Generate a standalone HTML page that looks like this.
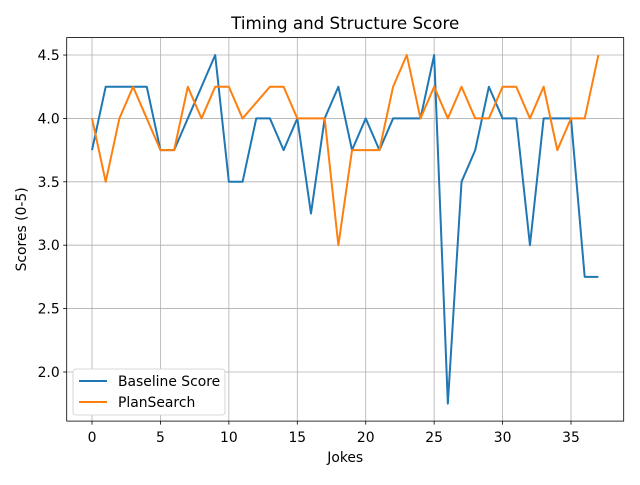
<!DOCTYPE html>
<html><head><meta charset="utf-8"><style>
body{margin:0;background:#fff}
svg text{font-family:"DejaVu Sans","Liberation Sans",sans-serif;fill:#000}
</style></head><body>
<svg id="chart" width="640" height="480" xmlns="http://www.w3.org/2000/svg"></svg>
<script>
const xTicks=[0,5,10,15,20,25,30,35];
const yTicks=[2.0,2.5,3.0,3.5,4.0,4.5];
const baseline=[3.75,4.25,4.25,4.25,4.25,3.75,3.75,4.0,4.25,4.5,3.5,3.5,4.0,4.0,3.75,4.0,3.25,4.0,4.25,3.75,4.0,3.75,4.0,4.0,4.0,4.5,1.75,3.5,3.75,4.25,4.0,4.0,3.0,4.0,4.0,4.0,2.75,2.75];
const plansearch=[4.0,3.5,4.0,4.25,4.0,3.75,3.75,4.25,4.0,4.25,4.25,4.0,4.125,4.25,4.25,4.0,4.0,4.0,3.0,3.75,3.75,3.75,4.25,4.5,4.0,4.25,4.0,4.25,4.0,4.0,4.25,4.25,4.0,4.25,3.75,4.0,4.0,4.5];
const L=66.7,R=623.7,T=37.6,B=421.1;
const xmin=-1.85,xmax=38.85,ymin=1.6125,ymax=4.6375;
const sx=v=>L+(v-xmin)/(xmax-xmin)*(R-L);
const sy=v=>B-(v-ymin)/(ymax-ymin)*(B-T);
const svg=document.getElementById('chart');
const NS='http://www.w3.org/2000/svg';
function mk(t,a,p){const e=document.createElementNS(NS,t);for(const k in a)e.setAttribute(k,a[k]);(p||svg).appendChild(e);return e;}
xTicks.forEach(v=>{
 const g=mk('line',{x1:sx(v),x2:sx(v),y1:T,y2:B,stroke:'#b0b0b0','stroke-width':0.8});
 
 
 mk('line',{x1:sx(v),x2:sx(v),y1:B,y2:B+3.5,stroke:'#000','stroke-width':0.8});
 const t=mk('text',{x:sx(v),y:B+21,'text-anchor':'middle','font-size':13.9});t.textContent=v;
 
 
});
yTicks.forEach(v=>{
 const g=mk('line',{x1:L,x2:R,y1:sy(v),y2:sy(v),stroke:'#b0b0b0','stroke-width':0.8});
 
 
 mk('line',{x1:L-3.5,x2:L,y1:sy(v),y2:sy(v),stroke:'#000','stroke-width':0.8});
 const t=mk('text',{x:L-7,y:sy(v)+5,'text-anchor':'end','font-size':13.9});t.textContent=v.toFixed(1);
 
 
});
function line(d,c,n){const p=mk('polyline',{points:d.map((v,i)=>sx(i)+','+sy(v)).join(' '),fill:'none',stroke:c,'stroke-width':2,'stroke-linejoin':'round'});
 
 }
line(baseline,'#1f77b4','baseline-score-line');
line(plansearch,'#ff7f0e','plansearch-line');
const fr=mk('rect',{x:L,y:T,width:R-L,height:B-T,fill:'none',stroke:'#000','stroke-width':0.8});


const ti=mk('text',{x:(L+R)/2,y:29,'text-anchor':'middle','font-size':16.7});ti.textContent='Timing and Structure Score';


const xl=mk('text',{x:(L+R)/2,y:462,'text-anchor':'middle','font-size':13.9});xl.textContent='Jokes';


const yl=mk('text',{x:0,y:0,'text-anchor':'middle','font-size':13.9,transform:`translate(26,${(T+B)/2}) rotate(-90)`});yl.textContent='Scores (0-5)';


const lg=mk('g',{});


mk('rect',{x:73,y:369,width:152,height:46,rx:3,fill:'#fff',stroke:'#ccc','stroke-width':0.8},lg);
[['Baseline Score','#1f77b4',381],['PlanSearch','#ff7f0e',402]].forEach(([n,c,y])=>{
 mk('line',{x1:79,x2:107,y1:y,y2:y,stroke:c,'stroke-width':2},lg);
 const t=mk('text',{x:118,y:y+5,'font-size':13.9},lg);t.textContent=n;
 
 
});
</script>
</body></html>
